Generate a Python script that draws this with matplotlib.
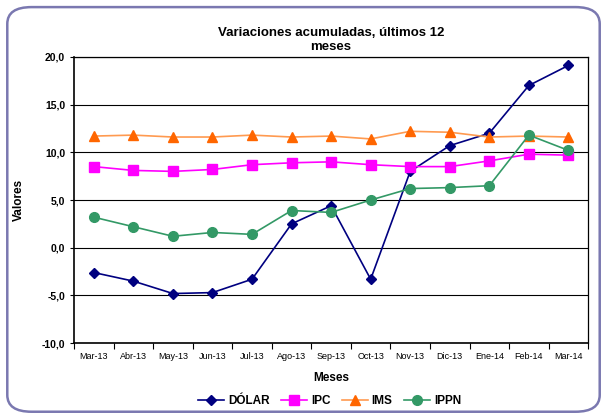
import matplotlib.pyplot as plt
from matplotlib.patches import FancyBboxPatch

meses = ['Mar-13', 'Abr-13', 'May-13', 'Jun-13', 'Jul-13', 'Ago-13', 'Sep-13',
         'Oct-13', 'Nov-13', 'Dic-13', 'Ene-14', 'Feb-14', 'Mar-14']
dolar = [-2.6, -3.5, -4.8, -4.7, -3.3, 2.5, 4.4, -3.3, 8.0, 10.7, 12.0, 17.0, 19.1]
ipc = [8.5, 8.1, 8.0, 8.2, 8.7, 8.9, 9.0, 8.7, 8.5, 8.5, 9.1, 9.8, 9.7]
ims = [11.7, 11.8, 11.6, 11.6, 11.8, 11.6, 11.7, 11.4, 12.2, 12.1, 11.6, 11.7, 11.6]
ippn = [3.2, 2.2, 1.2, 1.6, 1.4, 3.9, 3.7, 5.0, 6.2, 6.3, 6.5, 11.8, 10.2]
yticks = [-10, -5, 0, 5, 10, 15, 20]

fig = plt.figure(figsize=(6.07, 4.18), dpi=100)
plt.rcParams['font.family'] = ['Liberation Sans', 'DejaVu Sans']

# rounded frame around the chart
frame = FancyBboxPatch((0.012, 0.015), 0.976, 0.968, boxstyle='round,pad=0,rounding_size=0.04',
                       transform=fig.transFigure, fill=False, edgecolor='#7a78b0', lw=1.8)
fig.patches.append(frame)

ax = fig.add_axes([0.122, 0.179, 0.847, 0.685])
x = list(range(len(meses)))

ax.plot(x, dolar, color='#000080', marker='D', ms=5, lw=1.2, label='DÓLAR')
ax.plot(x, ipc, color='#ff00ff', marker='s', ms=7, lw=1.2, label='IPC')
ax.plot(x, ims, color='#ff9a50', marker='^', ms=7, mfc='#ff6600', mec='#ff6600', lw=1.2, label='IMS')
ax.plot(x, ippn, color='#339966', marker='o', ms=7, lw=1.2, label='IPPN')

ax.set_xlim(-0.5, len(meses) - 0.5)
ax.set_ylim(-10, 20)
ax.set_yticks(yticks)
ax.set_yticklabels([f'{v:.1f}'.replace('.', ',') for v in yticks], fontsize=7.5, fontweight='bold')
ax.set_xticks(x)
ax.set_xticklabels(meses, fontsize=6.5)
ax.set_xticks([i - 0.5 for i in range(len(meses) + 1)], minor=True)
ax.tick_params(axis='x', which='major', length=0, pad=6)
ax.tick_params(axis='x', which='minor', length=4, width=0.8)
ax.tick_params(axis='y', length=3, width=0.8)
ax.grid(axis='y', color='black', lw=0.8)
for s in ax.spines.values():
    s.set_linewidth(0.9)
ax.spines['left'].set_linewidth(1.2)
ax.spines['bottom'].set_linewidth(1.2)

ax.set_title('Variaciones acumuladas, últimos 12\nmeses', fontsize=9.5, fontweight='bold', pad=5)
ax.set_ylabel('Valores', fontsize=8.5, fontweight='bold', labelpad=12)
ax.set_xlabel('Meses', fontsize=8.5, fontweight='bold', labelpad=8)

fig.legend(loc='center', bbox_to_anchor=(0.543, 0.04), ncol=4, frameon=False,
           prop={'size': 8.5, 'weight': 'bold'}, handlelength=2.2, columnspacing=1.0,
           handletextpad=0.3)

fig.savefig('out.png', dpi=100)
